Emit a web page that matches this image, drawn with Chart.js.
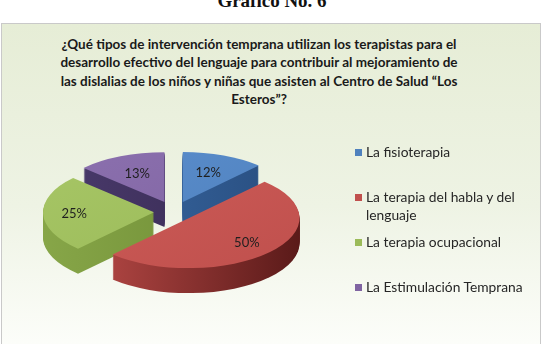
<!DOCTYPE html>
<html>
<head>
<meta charset="utf-8">
<script src="https://cdn.jsdelivr.net/npm/chart.js@4/dist/chart.umd.min.js"></script>
<style>
  html, body { margin: 0; padding: 0; background: #ffffff; }
  body { width: 544px; height: 344px; position: relative; overflow: hidden; }
  #heading {
    position: absolute; left: 0; top: -10px; width: 544px; text-align: center;
    font: bold 19px "Liberation Serif", "Times New Roman", serif; color: #111;
  }
  #box {
    position: absolute; left: 1px; top: 23px; width: 538px; height: 330px;
    border: 1px solid #c9c9c9;
    background: linear-gradient(#e6edd6 0%, #eef3e4 55%, #fdfefb 100%);
  }
  #title {
    position: absolute; left: 40px; top: 35px; width: 438px; text-align: center;
    font: bold 13.5px Lato, "Noto Sans", sans-serif; line-height: 18.3px; color: #1a1a1a;
  }
  #chart { position: absolute; left: 0; top: 0; }
  .item {
    position: absolute; left: 355px; width: 178px;
    font: 13.8px Lato, "Noto Sans", sans-serif; line-height: 18px; color: #262626;
    padding-left: 11px;
  }
  .item i { position: absolute; left: 0; top: 6px; width: 7px; height: 7px; }
</style>
</head>
<body>
<div id="heading">Gráfico No. 6</div>
<div id="box"></div>
<div id="title"></div>
<canvas id="chart" width="544" height="344"></canvas>
<div id="legend"></div>
<script>
// Datos del gráfico
const titleLines = [
  '¿Qué tipos de intervención temprana utilizan los terapistas para el',
  'desarrollo efectivo del lenguaje para contribuir al mejoramiento de',
  'las dislalias de los niños y niñas que asisten al Centro de Salud “Los',
  'Esteros”?'
];
const categories = [
  'La fisioterapia',
  'La terapia del habla y del lenguaje',
  'La terapia ocupacional',
  'La Estimulación Temprana'
];
const percentages = [12, 50, 25, 13];

// Colores (cara superior y lateral)
const topColors = ['#4f81bd', '#c0504d', '#9bbb59', '#8064a2'];
const topLight = ['#5a8dcc', '#cc5b57', '#a6c565', '#8b70ae'];
const sideLight = ['#3a6aa6', '#b94a47', '#87a648', '#4a3a6c'];
const sideDark = ['#284d7e', '#5a1a19', '#6c8a33', '#35294f'];

const TILT = 0.45;   // aplastamiento vertical
const DEPTH = 25;    // grosor del pastel
const RADIUS = 111;
const EXPLODE = [24, 20, 20, 24]; // separación de cada porción

// Título
document.getElementById('title').innerHTML = titleLines.join('<br>');

// Leyenda
const legend = document.getElementById('legend');
categories.forEach((c, i) => {
  const d = document.createElement('div');
  d.className = 'item';
  d.style.top = (143 + 45 * i) + 'px';
  d.innerHTML = '<i style="background:' + topColors[i] + '"></i>' + c;
  legend.appendChild(d);
});

function midAngle(arc) {
  return (arc.startAngle + arc.endAngle) / 2;
}

// Dibuja un arco con otro relleno, desplazado
function drawArcWith(ctx, arc, fill, dx, dy) {
  const saved = arc.options;
  arc.options = Object.assign({}, saved, { backgroundColor: fill });
  ctx.save();
  ctx.translate(dx, dy);
  arc.draw(ctx);
  ctx.restore();
  arc.options = saved;
}

const pie3d = {
  id: 'pie3d',
  beforeDatasetsDraw(chart) {
    const ctx = chart.ctx;
    const arcs = chart.getDatasetMeta(0).data;
    const cx = arcs[0].x, cy = arcs[0].y;
    ctx.save();
    ctx.translate(cx, cy);
    ctx.scale(1, TILT);
    ctx.translate(-cx, -cy);
    // de atrás hacia adelante
    const order = arcs.map((a, i) => i).sort((a, b) =>
      Math.sin(midAngle(arcs[a])) - Math.sin(midAngle(arcs[b])));
    // caras laterales
    order.forEach(i => {
      const arc = arcs[i];
      const m = midAngle(arc);
      const g = ctx.createLinearGradient(cx - RADIUS, 0, cx + RADIUS, 0);
      g.addColorStop(0, sideLight[i]);
      g.addColorStop(1, sideDark[i]);
      for (let d = DEPTH; d > 0; d--) {
        drawArcWith(ctx, arc, g, Math.cos(m) * EXPLODE[i], Math.sin(m) * EXPLODE[i] + d / TILT);
      }
    });
    // caras superiores
    order.forEach(i => {
      const arc = arcs[i];
      const m = midAngle(arc);
      const g = ctx.createLinearGradient(cx - RADIUS, cy - RADIUS, cx + RADIUS, cy + RADIUS);
      g.addColorStop(0, topLight[i]);
      g.addColorStop(1, topColors[i]);
      drawArcWith(ctx, arc, g, Math.cos(m) * EXPLODE[i], Math.sin(m) * EXPLODE[i]);
    });
    ctx.restore();
    return false;
  },
  afterDraw(chart) {
    const ctx = chart.ctx;
    const arcs = chart.getDatasetMeta(0).data;
    const total = percentages.reduce((a, b) => a + b, 0);
    ctx.save();
    ctx.font = '13px Lato, "Noto Sans", sans-serif';
    ctx.fillStyle = '#1f1f1f';
    ctx.textAlign = 'center';
    ctx.textBaseline = 'middle';
    arcs.forEach((arc, i) => {
      const m = midAngle(arc);
      const share = percentages[i] / total;
      const r = RADIUS * (share < 0.2 ? 0.62 : 0.72) + EXPLODE[i];
      const x = arc.x + Math.cos(m) * r;
      const y = arc.y + Math.sin(m) * r * TILT;
      ctx.fillText(percentages[i] + '%', x, y);
    });
    ctx.restore();
  }
};

new Chart(document.getElementById('chart'), {
  type: 'pie',
  data: {
    labels: categories,
    datasets: [{
      data: percentages,
      backgroundColor: topColors,
      borderWidth: 0,
      radius: RADIUS
    }]
  },
  options: {
    responsive: false,
    animation: false,
    radius: RADIUS,
    layout: { padding: { left: 0, right: 196, top: 80, bottom: 0 } },
    plugins: {
      legend: { display: false },
      tooltip: { enabled: false }
    }
  },
  plugins: [pie3d]
});
</script>
</body>
</html>
